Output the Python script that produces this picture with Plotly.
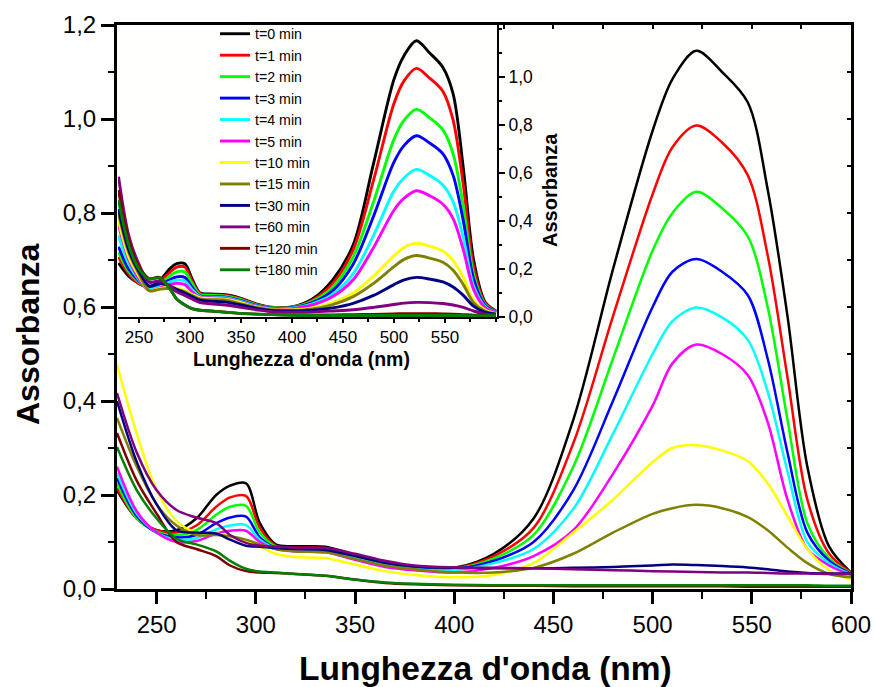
import plotly.graph_objects as go

# Wavelength grid (nm)
wavelength = [230, 240, 250, 260, 270, 280, 287, 295, 302, 310, 320, 335, 350, 365, 380,
              400, 420, 440, 460, 480, 500, 510, 522, 535, 548, 558, 568, 578, 589, 600]

series_names = ["t=0 min", "t=1 min", "t=2 min", "t=3 min", "t=4 min", "t=5 min",
                "t=10 min", "t=15 min", "t=30 min", "t=60 min", "t=120 min", "t=180 min"]
series_colors = ["#000000", "#FF0000", "#00FF00", "#0000FF", "#00FFFF", "#FF00FF",
                 "#FFFF00", "#808000", "#000080", "#800080", "#800000", "#008000"]

# Main chart absorbance values
main_t0 = [0.21, 0.15, 0.125, 0.125, 0.15, 0.2, 0.22, 0.225, 0.14, 0.095, 0.091, 0.09, 0.072, 0.053, 0.046,
           0.045, 0.075, 0.15, 0.36, 0.68, 0.975, 1.085, 1.145, 1.10, 1.035, 0.85, 0.58, 0.26, 0.09, 0.035]
main_t1 = [0.215, 0.15, 0.125, 0.12, 0.135, 0.175, 0.195, 0.198, 0.13, 0.092, 0.088, 0.087, 0.07, 0.052, 0.045,
           0.044, 0.07, 0.13, 0.31, 0.58, 0.84, 0.94, 0.986, 0.95, 0.88, 0.71, 0.45, 0.19, 0.075, 0.035]
main_t2 = [0.225, 0.15, 0.122, 0.115, 0.125, 0.158, 0.175, 0.177, 0.12, 0.09, 0.086, 0.085, 0.068, 0.05, 0.044,
           0.043, 0.065, 0.115, 0.26, 0.49, 0.72, 0.80, 0.845, 0.81, 0.75, 0.60, 0.36, 0.14, 0.065, 0.033]
main_t3 = [0.236, 0.155, 0.12, 0.11, 0.115, 0.14, 0.152, 0.154, 0.11, 0.088, 0.085, 0.084, 0.067, 0.05, 0.043,
           0.042, 0.06, 0.10, 0.21, 0.40, 0.60, 0.675, 0.702, 0.675, 0.625, 0.49, 0.29, 0.12, 0.06, 0.032]
main_t4 = [0.247, 0.16, 0.12, 0.105, 0.108, 0.127, 0.135, 0.136, 0.105, 0.087, 0.083, 0.082, 0.066, 0.05, 0.042,
           0.04, 0.055, 0.085, 0.17, 0.33, 0.50, 0.57, 0.599, 0.578, 0.53, 0.42, 0.25, 0.10, 0.055, 0.031]
main_t5 = [0.26, 0.165, 0.12, 0.10, 0.102, 0.118, 0.124, 0.124, 0.10, 0.085, 0.08, 0.078, 0.062, 0.047, 0.04,
           0.035, 0.045, 0.07, 0.125, 0.245, 0.39, 0.48, 0.52, 0.50, 0.455, 0.355, 0.19, 0.085, 0.05, 0.03]
main_t10 = [0.477, 0.33, 0.21, 0.145, 0.12, 0.118, 0.112, 0.103, 0.09, 0.075, 0.068, 0.066, 0.052, 0.038, 0.03,
            0.025, 0.03, 0.055, 0.12, 0.19, 0.27, 0.30, 0.306, 0.295, 0.272, 0.225, 0.155, 0.085, 0.04, 0.02]
main_t15 = [0.364, 0.26, 0.18, 0.135, 0.115, 0.115, 0.112, 0.105, 0.095, 0.085, 0.08, 0.078, 0.064, 0.05, 0.042,
            0.035, 0.035, 0.045, 0.075, 0.12, 0.16, 0.172, 0.179, 0.172, 0.153, 0.125, 0.088, 0.055, 0.032, 0.025]
main_t30 = [0.40, 0.27, 0.18, 0.125, 0.12, 0.118, 0.105, 0.092, 0.09, 0.087, 0.085, 0.083, 0.07, 0.056, 0.048,
            0.045, 0.044, 0.044, 0.045, 0.047, 0.05, 0.052, 0.051, 0.049, 0.046, 0.042, 0.037, 0.034, 0.033, 0.033]
main_t60 = [0.417, 0.29, 0.21, 0.168, 0.152, 0.14, 0.115, 0.098, 0.092, 0.09, 0.088, 0.087, 0.075, 0.06, 0.05,
            0.046, 0.045, 0.044, 0.042, 0.04, 0.038, 0.037, 0.036, 0.035, 0.035, 0.034, 0.033, 0.033, 0.032, 0.032]
main_t120 = [0.332, 0.23, 0.16, 0.10, 0.085, 0.07, 0.05, 0.038, 0.035, 0.034, 0.032, 0.028, 0.02, 0.013, 0.01,
             0.008, 0.007, 0.007, 0.006, 0.006, 0.006, 0.006, 0.006, 0.006, 0.005, 0.005, 0.005, 0.005, 0.005, 0.005]
main_t180 = [0.302, 0.21, 0.15, 0.107, 0.095, 0.08, 0.06, 0.043, 0.037, 0.035, 0.032, 0.028, 0.02, 0.014, 0.011,
             0.009, 0.008, 0.008, 0.008, 0.008, 0.008, 0.008, 0.008, 0.008, 0.008, 0.008, 0.008, 0.008, 0.007, 0.007]

# Inset absorbance values
ins_t0 = [0.225, 0.17, 0.14, 0.125, 0.15, 0.2, 0.222, 0.222, 0.16, 0.10, 0.096, 0.093, 0.078, 0.055, 0.041,
          0.042, 0.075, 0.155, 0.30, 0.64, 0.99, 1.09, 1.151, 1.10, 1.04, 0.93, 0.62, 0.24, 0.065, 0.025]
ins_t1 = [0.25, 0.18, 0.14, 0.125, 0.145, 0.185, 0.208, 0.208, 0.15, 0.097, 0.093, 0.09, 0.075, 0.053, 0.04,
          0.041, 0.07, 0.14, 0.28, 0.57, 0.89, 0.985, 1.036, 0.995, 0.94, 0.82, 0.55, 0.21, 0.06, 0.024]
ins_t2 = [0.27, 0.19, 0.145, 0.122, 0.138, 0.17, 0.188, 0.188, 0.14, 0.093, 0.09, 0.087, 0.072, 0.05, 0.039,
          0.04, 0.065, 0.125, 0.25, 0.48, 0.74, 0.82, 0.865, 0.83, 0.78, 0.68, 0.46, 0.18, 0.055, 0.022]
ins_t3 = [0.293, 0.20, 0.15, 0.12, 0.13, 0.155, 0.167, 0.165, 0.125, 0.088, 0.085, 0.083, 0.068, 0.048, 0.037,
          0.039, 0.06, 0.11, 0.22, 0.42, 0.645, 0.715, 0.755, 0.725, 0.68, 0.59, 0.40, 0.16, 0.05, 0.02]
ins_t4 = [0.34, 0.22, 0.155, 0.115, 0.125, 0.145, 0.153, 0.15, 0.115, 0.085, 0.082, 0.08, 0.065, 0.046, 0.035,
          0.037, 0.055, 0.095, 0.18, 0.34, 0.525, 0.58, 0.615, 0.59, 0.55, 0.48, 0.33, 0.13, 0.045, 0.018]
ins_t5 = [0.383, 0.24, 0.16, 0.11, 0.12, 0.135, 0.14, 0.135, 0.105, 0.082, 0.08, 0.077, 0.062, 0.044, 0.034,
          0.035, 0.05, 0.085, 0.155, 0.29, 0.445, 0.495, 0.526, 0.505, 0.47, 0.41, 0.28, 0.115, 0.04, 0.017]
ins_t10 = [0.40, 0.25, 0.17, 0.11, 0.118, 0.125, 0.12, 0.11, 0.095, 0.08, 0.077, 0.074, 0.06, 0.042, 0.032,
           0.03, 0.038, 0.06, 0.10, 0.17, 0.255, 0.29, 0.307, 0.295, 0.275, 0.235, 0.165, 0.07, 0.03, 0.014]
ins_t15 = [0.43, 0.27, 0.18, 0.11, 0.115, 0.12, 0.115, 0.105, 0.09, 0.075, 0.072, 0.07, 0.055, 0.04, 0.03,
           0.028, 0.034, 0.052, 0.085, 0.14, 0.21, 0.24, 0.256, 0.245, 0.228, 0.195, 0.135, 0.06, 0.025, 0.013]
ins_t30 = [0.45, 0.28, 0.19, 0.13, 0.14, 0.13, 0.115, 0.10, 0.085, 0.07, 0.066, 0.062, 0.05, 0.036, 0.027,
           0.025, 0.028, 0.038, 0.057, 0.09, 0.135, 0.155, 0.165, 0.158, 0.146, 0.125, 0.09, 0.045, 0.02, 0.012]
ins_t60 = [0.585, 0.34, 0.22, 0.145, 0.15, 0.13, 0.105, 0.09, 0.075, 0.06, 0.055, 0.05, 0.04, 0.03, 0.022,
           0.02, 0.021, 0.025, 0.03, 0.04, 0.052, 0.058, 0.061, 0.06, 0.056, 0.05, 0.04, 0.025, 0.013, 0.01]
ins_t120 = [0.53, 0.32, 0.21, 0.16, 0.165, 0.12, 0.075, 0.05, 0.035, 0.028, 0.025, 0.02, 0.015, 0.012, 0.01,
            0.008, 0.008, 0.009, 0.01, 0.011, 0.013, 0.014, 0.014, 0.014, 0.013, 0.012, 0.01, 0.008, 0.007, 0.006]
ins_t180 = [0.4875, 0.30, 0.20, 0.158, 0.163, 0.12, 0.075, 0.05, 0.035, 0.028, 0.025, 0.02, 0.015, 0.012, 0.01,
            0.007, 0.006, 0.006, 0.006, 0.006, 0.006, 0.006, 0.006, 0.006, 0.006, 0.006, 0.006, 0.005, 0.005, 0.005]

main_series = [main_t0, main_t1, main_t2, main_t3, main_t4, main_t5,
               main_t10, main_t15, main_t30, main_t60, main_t120, main_t180]
inset_series = [ins_t0, ins_t1, ins_t2, ins_t3, ins_t4, ins_t5,
                ins_t10, ins_t15, ins_t30, ins_t60, ins_t120, ins_t180]

main_xticks = [250, 300, 350, 400, 450, 500, 550, 600]
main_yticks = [0.0, 0.2, 0.4, 0.6, 0.8, 1.0, 1.2]
inset_xticks = [250, 300, 350, 400, 450, 500, 550]
inset_yticks = [0.0, 0.2, 0.4, 0.6, 0.8, 1.0]

FONT = "Liberation Sans, Arial, sans-serif"

fig = go.Figure()

# Main traces (drawn first; beneath the inset)
for name, color, vals in zip(series_names, series_colors, main_series):
    fig.add_trace(go.Scatter(x=wavelength, y=vals, mode="lines", name=name,
                             line=dict(color=color, width=2.5, shape="spline", smoothing=0.9),
                             xaxis="x", yaxis="y", showlegend=False, hoverinfo="skip"))

# Empty trace that carries the frame's top/right tick axes
fig.add_trace(go.Scatter(x=[], y=[], xaxis="x3", yaxis="y3", showlegend=False, hoverinfo="skip"))

# Inset traces (carry the legend)
for name, color, vals in zip(series_names, series_colors, inset_series):
    fig.add_trace(go.Scatter(x=wavelength, y=vals, mode="lines", name=name,
                             line=dict(color=color, width=2.9, shape="spline", smoothing=0.9),
                             xaxis="x2", yaxis="y2", showlegend=True))

W, H = 876, 687
ml, mr, mt, mb = 117, 25, 25, 98
pw, ph = W - ml - mr, H - mt - mb

def px_x(p):
    return (p - ml) / pw

def px_y(p):
    return (H - mb - p) / ph

fig.update_layout(
    width=W, height=H,
    margin=dict(l=ml, r=mr, t=mt, b=mb, pad=0, autoexpand=False),
    paper_bgcolor="white",
    plot_bgcolor="#fffffe",
    separators=",.",
    font=dict(family=FONT, color="black"),
    xaxis=dict(domain=[0, 1], range=[230, 600], tickvals=main_xticks, automargin=False,
               showline=True, linewidth=3, linecolor="black", mirror=True,
               ticks="outside", ticklen=12, tickwidth=2.5, tickcolor="black",
               minor=dict(dtick=25, tick0=250, ticks="outside", ticklen=7, tickwidth=2, tickcolor="black"),
               showgrid=False, zeroline=False, tickfont=dict(size=24, family=FONT)),
    yaxis=dict(domain=[0, 1], range=[0, 1.2], tickvals=main_yticks, tickformat=".1f", automargin=False,
               showline=True, linewidth=3, linecolor="black", mirror=True,
               ticks="outside", ticklen=13, tickwidth=2.5, tickcolor="black",
               minor=dict(dtick=0.1, tick0=0, ticks="outside", ticklen=6, tickwidth=2, tickcolor="black"),
               showgrid=False, zeroline=False, tickfont=dict(size=24, family=FONT)),
    xaxis3=dict(overlaying="x", anchor="y", side="top", range=[230, 600], automargin=False,
                tickmode="linear", tick0=250, dtick=25, ticks="inside", ticklen=4, tickwidth=2,
                tickcolor="black", showticklabels=False, showline=False, showgrid=False, zeroline=False),
    yaxis3=dict(overlaying="y", anchor="x", side="right", range=[0, 1.2], automargin=False,
                tickmode="linear", tick0=0, dtick=0.1, ticks="inside", ticklen=4, tickwidth=2,
                tickcolor="black", showticklabels=False, showline=False, showgrid=False, zeroline=False),
    xaxis2=dict(domain=[px_x(118), px_x(497)], anchor="y2", range=[229.5, 601], tickvals=inset_xticks,
                automargin=False,
                showline=True, linewidth=2, linecolor="black",
                ticks="outside", ticklen=4, tickwidth=2, tickcolor="black",
                minor=dict(dtick=25, tick0=250, ticks="outside", ticklen=3, tickwidth=1.5, tickcolor="black"),
                showgrid=False, zeroline=False, tickfont=dict(size=17, family=FONT)),
    yaxis2=dict(domain=[px_y(317), 1], anchor="x2", side="right", range=[0, 1.2167],
                tickvals=inset_yticks, tickformat=".1f", automargin=False,
                showline=True, linewidth=2, linecolor="black",
                ticks="outside", ticklen=6, tickwidth=2, tickcolor="black",
                minor=dict(dtick=0.1, tick0=0, ticks="outside", ticklen=3, tickwidth=1.5, tickcolor="black"),
                showgrid=False, zeroline=False, tickfont=dict(size=17.5, family=FONT)),
    legend=dict(x=px_x(215), y=px_y(18), xanchor="left", yanchor="top",
                bgcolor="rgba(0,0,0,0)", borderwidth=0,
                font=dict(size=14.2, family=FONT, color="black"),
                tracegroupgap=0),
    annotations=[
        dict(text="Lunghezza d'onda (nm)", x=px_x(485), y=px_y(668), xref="paper", yref="paper",
             showarrow=False, xanchor="center", yanchor="middle",
             font=dict(size=33.5, family=FONT, weight="bold", color="black")),
        dict(text="Assorbanza", x=px_x(28), y=px_y(334), xref="paper", yref="paper",
             showarrow=False, textangle=-90, xanchor="center", yanchor="middle",
             font=dict(size=32, family=FONT, weight="bold", color="black")),
        dict(text="Lunghezza d'onda (nm)", x=px_x(301), y=px_y(359), xref="paper", yref="paper",
             showarrow=False, xanchor="center", yanchor="middle",
             font=dict(size=19.5, family=FONT, weight="bold", color="black")),
        dict(text="Assorbanza", x=px_x(550), y=px_y(190), xref="paper", yref="paper",
             showarrow=False, textangle=-90, xanchor="center", yanchor="middle",
             font=dict(size=20, family=FONT, weight="bold", color="black")),
    ],
)

fig.write_html("out.html", config={"displayModeBar": False},
               post_script="document.body.style.margin='0px';")
